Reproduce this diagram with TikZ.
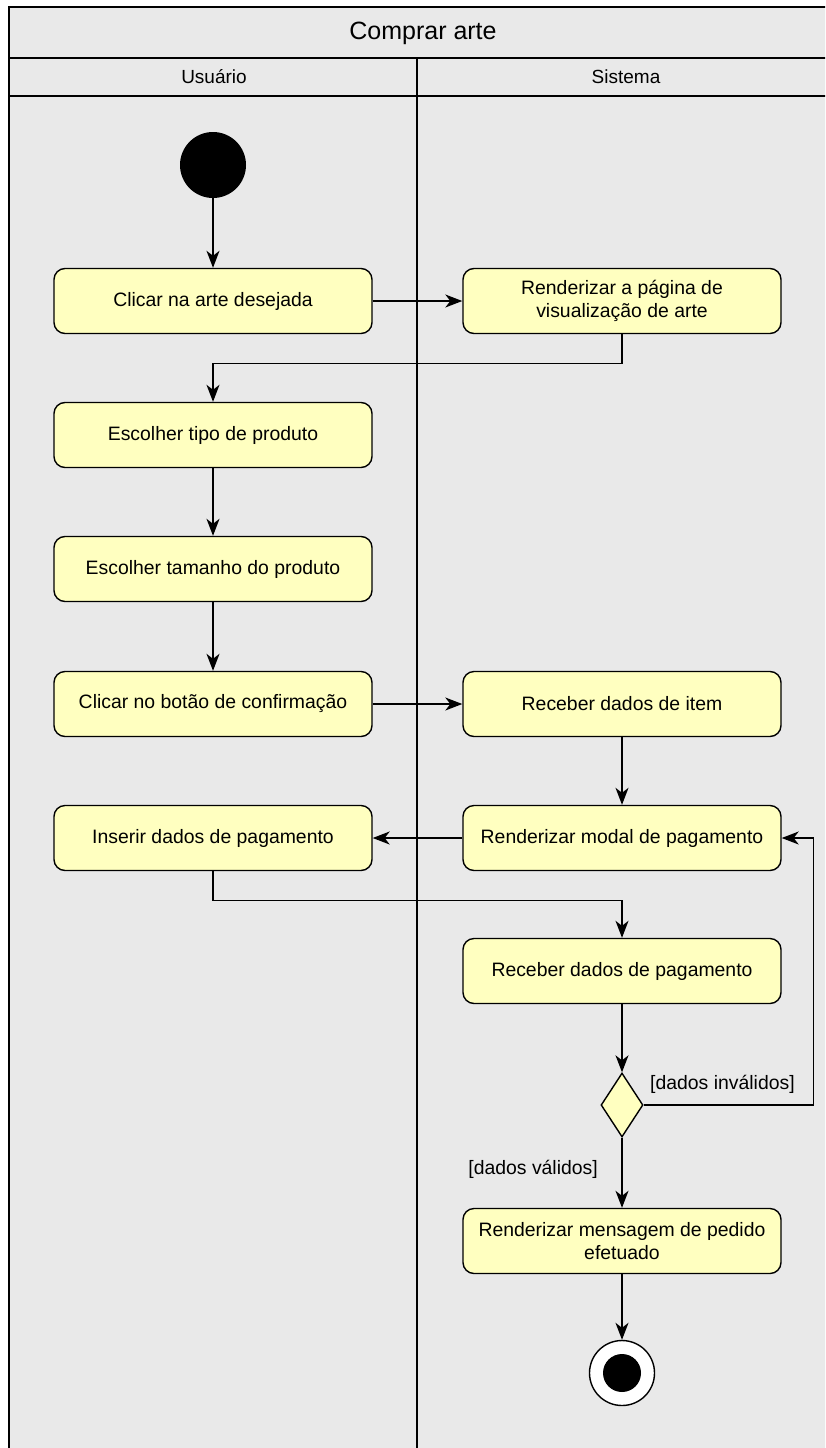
\documentclass[tikz,border=0pt]{standalone}
\usepackage{fontspec}
\setmainfont{Liberation Sans}
\usetikzlibrary{arrows.meta,shapes.geometric}
\definecolor{lanegray}{HTML}{E9E9E9}
\definecolor{actyellow}{HTML}{FFFFC0}

\begin{document}
\begin{tikzpicture}[x=1pt,y=-1pt]
\tikzstyle{every node}+=[inner sep=0pt, font=\fontsize{19.4}{23}\selectfont]
\tikzstyle{action}=[draw, fill=actyellow, rounded corners=11pt, minimum width=318pt, minimum height=65pt, align=center, line width=1.4pt]
\tikzstyle{flow}=[-{Stealth[length=17pt,width=13pt,inset=5pt]}, line width=1.4pt]
\tikzstyle{lane}=[line width=1.8pt]

\useasboundingbox (0,0) rectangle (825,1448);
\clip (0,0) rectangle (825,1448);

% pool and lanes
\fill[lanegray] (9,7) rectangle (836,1470);
\draw[lane] (836,7) -- (9,7) -- (9,1470);
\draw[lane] (9,58) -- (836,58);
\draw[lane] (9,96) -- (836,96);
\draw[lane] (417,58) -- (417,1470);
\node (title) at (423,33) {\fontsize{25}{28}\selectfont Comprar arte};
\node (usuario) at (214,77) {\fontsize{19}{23}\selectfont Usuário};
\node (sistema) at (626,77) {\fontsize{19}{23}\selectfont Sistema};

% Usuario
\node[circle, fill=black, minimum size=66pt] (inicio) at (213,165) {};
\node[action] (clicarArte) at (213,301) {Clicar na arte desejada};
\node[action] (tipo) at (213,435) {Escolher tipo de produto};
\node[action] (tamanho) at (213,569) {Escolher tamanho do produto};
\node[action] (confirmar) at (213,704) {Clicar no botão de confirmação};
\node[action] (inserirPag) at (213,838) {Inserir dados de pagamento};

% Sistema
\node[action] (renderArte) at (622,301) {Renderizar a página de\\visualização de arte};
\node[action] (receberItem) at (622,704) {Receber dados de item};
\node[action] (renderModal) at (622,838) {Renderizar modal de pagamento};
\node[action] (receberPag) at (622,971) {Receber dados de pagamento};
\node[diamond, draw, fill=actyellow, line width=1.4pt, minimum width=42pt, minimum height=64pt] (valida) at (622,1105) {};
\node[action] (renderPedido) at (622,1241) {Renderizar mensagem de pedido\\efetuado};
\node[circle, draw, fill=white, line width=1.4pt, minimum size=65pt] (fim) at (622,1373) {};
\node[circle, fill=black, minimum size=38pt] (fimDot) at (622,1373) {};

% guards
\node[anchor=west] (invalidos) at (650,1084) {[dados inválidos]};
\node[anchor=east] (validos) at (598,1169) {[dados válidos]};

% flows
\draw[flow] (inicio) -- (clicarArte);
\draw[flow] (clicarArte) -- (renderArte);
\draw[flow] (renderArte.south) -- ++(0,29) -| (tipo.north);
\draw[flow] (tipo) -- (tamanho);
\draw[flow] (tamanho) -- (confirmar);
\draw[flow] (confirmar) -- (receberItem);
\draw[flow] (receberItem) -- (renderModal);
\draw[flow] (renderModal) -- (inserirPag);
\draw[flow] (inserirPag.south) -- ++(0,29) -| (receberPag.north);
\draw[flow] (receberPag) -- (valida);
\draw[flow] (valida.east) -- ++(170,0) |- (renderModal.east);
\draw[flow] (valida) -- (renderPedido);
\draw[flow] (renderPedido) -- (fim);
\end{tikzpicture}
\end{document}
